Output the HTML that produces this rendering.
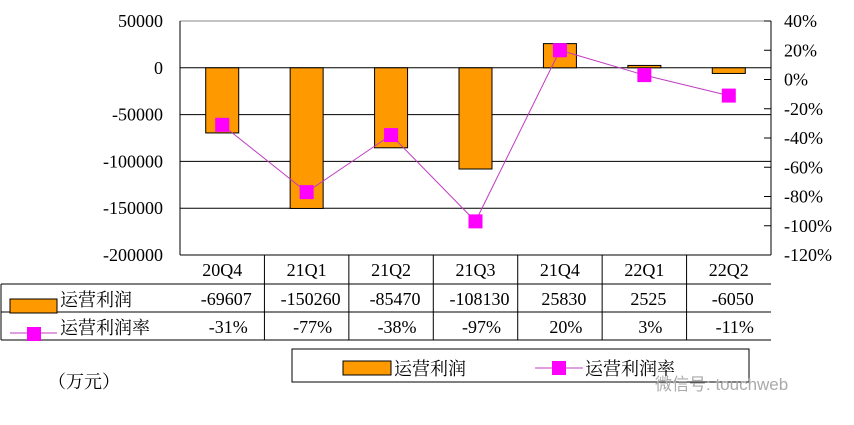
<!DOCTYPE html>
<html><head><meta charset="utf-8"><style>
body{margin:0;background:#fff;}
svg text{font-family:"Liberation Serif","Noto Serif CJK SC",serif;font-size:18px;fill:#000;}
</style></head><body>
<svg id="c" width="854" height="420" xmlns="http://www.w3.org/2000/svg"></svg>
<script>
const categories=["20Q4","21Q1","21Q2","21Q3","21Q4","22Q1","22Q2"];
const profit=[-69607,-150260,-85470,-108130,25830,2525,-6050];
const margin=[-31,-77,-38,-97,20,3,-11];
const profitLabels=["-69607","-150260","-85470","-108130","25830","2525","-6050"];
const marginLabels=["-31%","-77%","-38%","-97%","20%","3%","-11%"];
const leftTicks=[50000,0,-50000,-100000,-150000,-200000];
const rightTicks=[40,20,0,-20,-40,-60,-80,-100,-120];

const svg=document.getElementById('c');
const NS="http://www.w3.org/2000/svg";
const L=180,R=771,T=21,B=255;
const yL=v=>T+(50000-v)/250000*(B-T);
const yR=v=>T+(40-v)/160*(B-T);
const cw=(R-L)/categories.length;
const xC=i=>L+cw*(i+0.5);
function mk(tag,attrs,name,txt){const e=document.createElementNS(NS,tag);for(const k in attrs)e.setAttribute(k,attrs[k]);


if(txt!==undefined)e.textContent=txt;svg.appendChild(e);return e;}
mk('line',{x1:L,y1:T,x2:R,y2:T,stroke:'#888','stroke-width':1},'plot-top-border');
leftTicks.forEach(t=>{if(t<50000&&t>-200000)mk('line',{x1:L,y1:yL(t),x2:R,y2:yL(t),stroke:'#000','stroke-width':1},'gridline');});
leftTicks.forEach(t=>mk('text',{x:163,y:yL(t)+6,'text-anchor':'end'},'y-axis-left-tick',String(t)));
mk('line',{x1:L,y1:T,x2:L,y2:B,stroke:'#000'},'y-axis-left');
mk('line',{x1:R,y1:T,x2:R,y2:B,stroke:'#000'},'y-axis-right');
rightTicks.forEach(t=>{mk('line',{x1:R-7,y1:yR(t),x2:R,y2:yR(t),stroke:'#000'},'y-axis-right-tickmark');
mk('text',{x:784,y:yR(t)+6},'y-axis-right-tick',t+'%');});
profit.forEach((v,i)=>{const y0=yL(0),y1=yL(v);mk('rect',{x:xC(i)-16.5,y:Math.min(y0,y1),width:33,height:Math.max(1,Math.abs(y1-y0)),fill:'#ff9900',stroke:'#000','stroke-width':1},'bar-'+categories[i].toLowerCase());});
mk('polyline',{points:margin.map((v,i)=>xC(i)+','+yR(v)).join(' '),fill:'none',stroke:'#c03cc0','stroke-width':1},'margin-line');
margin.forEach((v,i)=>mk('rect',{x:xC(i)-7,y:yR(v)-7,width:14,height:14,fill:'#ff00ff'},'margin-point-'+categories[i].toLowerCase()));
mk('line',{x1:L,y1:B,x2:R,y2:B,stroke:'#000'},'table-top');
[284,312,340].forEach(y=>mk('line',{x1:1,y1:y,x2:R,y2:y,stroke:'#000'},'table-row-line'));
mk('line',{x1:1,y1:284,x2:1,y2:340,stroke:'#000'},'table-left');
for(let i=1;i<categories.length;i++)mk('line',{x1:L+cw*i,y1:B,x2:L+cw*i,y2:340,stroke:'#000'},'table-col-line');
categories.forEach((c,i)=>{mk('text',{x:xC(i),y:276,'text-anchor':'middle'},'category-label',c);
mk('text',{x:xC(i)+4,y:305,'text-anchor':'middle'},'profit-value',profitLabels[i]);
mk('text',{x:xC(i)+6,y:333,'text-anchor':'middle'},'margin-value',marginLabels[i]);});
mk('rect',{x:10,y:299,width:47,height:14,fill:'#ff9900',stroke:'#000'},'table-profit-swatch');
mk('text',{x:60,y:306},'table-profit-label','运营利润');
mk('line',{x1:10,y1:333,x2:57,y2:333,stroke:'#c03cc0'},'table-margin-line');
mk('rect',{x:27,y:327,width:14,height:14,fill:'#ff00ff'},'table-margin-marker');
mk('text',{x:60,y:334},'table-margin-label','运营利润率');
mk('rect',{x:292,y:349,width:457,height:33,fill:'none',stroke:'#000'},'legend-box');
mk('rect',{x:343,y:361,width:48,height:14,fill:'#ff9900',stroke:'#000'},'legend-profit-swatch');
mk('text',{x:394,y:375},'legend-profit-label','运营利润');
mk('line',{x1:535,y1:368,x2:583,y2:368,stroke:'#c03cc0'},'legend-margin-line');
mk('rect',{x:552,y:361,width:14,height:14,fill:'#ff00ff'},'legend-margin-marker');
mk('text',{x:585,y:375},'legend-margin-label','运营利润率');
mk('text',{x:48,y:388},'unit-label','（万元）');
mk('text',{x:655,y:390,style:'fill:#aaa;font-family:"Liberation Sans","Noto Sans CJK SC",sans-serif;font-size:17px'},'watermark','微信号: touchweb');
</script>
</body></html>
